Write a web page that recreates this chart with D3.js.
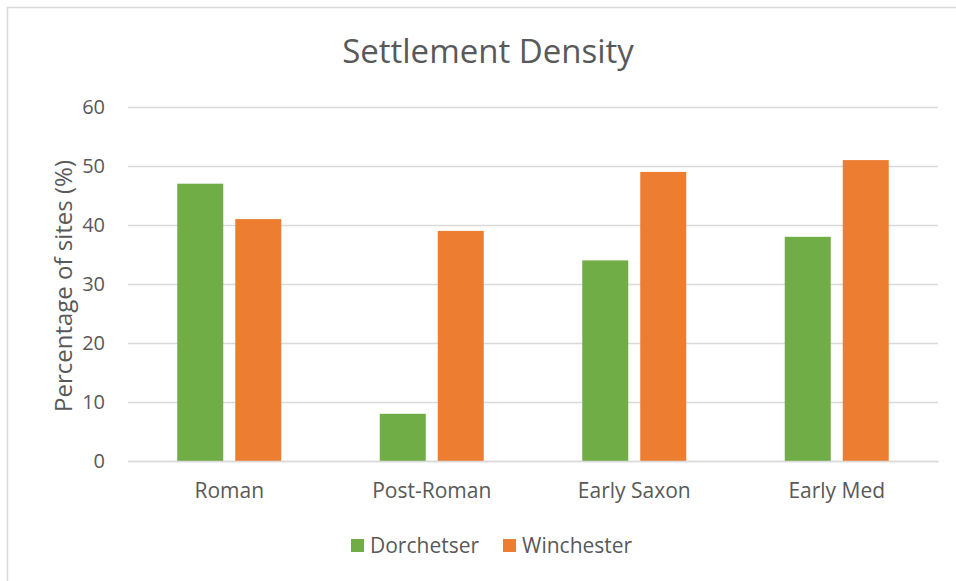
<!DOCTYPE html>
<html>
<head>
<meta charset="utf-8">
<script src="https://cdn.jsdelivr.net/npm/d3@7"></script>
<style>
html,body{margin:0;padding:0;background:#fff;}
svg{display:block;}
text{font-family:"Open Sans",sans-serif;fill:#595959;}
</style>
</head>
<body>
<svg id="chart" width="956" height="581"></svg>
<script>
const categories = ["Roman", "Post-Roman", "Early Saxon", "Early Med"];
const seriesNames = ["Dorchetser", "Winchester"];
const dorchetser = [47, 8, 34, 38];
const winchester = [41, 39, 49, 51];
const yTicks = [0, 10, 20, 30, 40, 50, 60];
const colors = ["#70ad47", "#ed7d31"];
const title = "Settlement Density";
const yTitle = "Percentage of sites (%)";

const seriesValues = [dorchetser, winchester];
const svg = d3.select("#chart");

// chart border
svg.append("rect").attr("x", 7.5).attr("y", 7.5).attr("width", 1000).attr("height", 1000)
  .attr("fill", "none").attr("stroke", "#d9d9d9").attr("stroke-width", 1.5);

const plot = {left: 128, right: 938, top: 107, bottom: 461};
const y = d3.scaleLinear().domain([0, 60]).range([plot.bottom, plot.top]);
const x0 = d3.scaleBand().domain(categories).range([plot.left, plot.right]).padding(0);
const groupW = 104;
const x1 = d3.scaleBand().domain(seriesNames)
  .range([(x0.bandwidth() - groupW) / 2, (x0.bandwidth() + groupW) / 2])
  .paddingInner(12 / 58).paddingOuter(0);

// gridlines
const yAxis = d3.axisLeft(y).tickValues(yTicks).tickSize(-(plot.right - plot.left)).tickPadding(23);
const gy = svg.append("g").attr("transform", `translate(${plot.left},0)`).call(yAxis);
gy.select(".domain").remove();
gy.selectAll(".tick line").attr("stroke", "#d9d9d9").attr("stroke-width", 1.5);
gy.selectAll(".tick text").attr("font-size", 20).attr("fill", "#595959")
  .style("font-family", "'Open Sans',sans-serif");

// bars
const groups = svg.append("g").selectAll("g").data(categories).join("g")
  .attr("transform", d => `translate(${x0(d)},0)`);
groups.selectAll("rect")
  .data((d, i) => seriesNames.map((s, j) => ({s, v: seriesValues[j][i], c: colors[j]})))
  .join("rect")
  .attr("x", d => x1(d.s))
  .attr("width", x1.bandwidth())
  .attr("y", d => y(d.v))
  .attr("height", d => y(0) - y(d.v))
  .attr("fill", d => d.c);

// x axis
const xAxis = d3.axisBottom(x0).tickSize(0).tickPadding(22);
const gx = svg.append("g").attr("transform", `translate(0,${plot.bottom})`).call(xAxis);
gx.select(".domain").attr("stroke", "#d9d9d9").attr("stroke-width", 1.5);
gx.selectAll(".tick text").attr("font-size", 21).attr("fill", "#595959")
  .style("font-family", "'Open Sans',sans-serif");

// title
svg.append("text").attr("x", 488).attr("y", 63).attr("text-anchor", "middle")
  .attr("font-size", 33).text(title);

// y title
svg.append("text").attr("transform", "translate(72,286) rotate(-90)")
  .attr("text-anchor", "middle").attr("font-size", 24).text(yTitle);

// legend
const legendX = [351, 503];
const lg = svg.append("g").selectAll("g").data(seriesNames).join("g")
  .attr("transform", (d, i) => `translate(${legendX[i]},539)`);
lg.append("rect").attr("width", 13).attr("height", 13).attr("fill", (d, i) => colors[i]);
lg.append("text").attr("x", 19).attr("y", 14).attr("font-size", 21).text(d => d);
</script>
</body>
</html>
